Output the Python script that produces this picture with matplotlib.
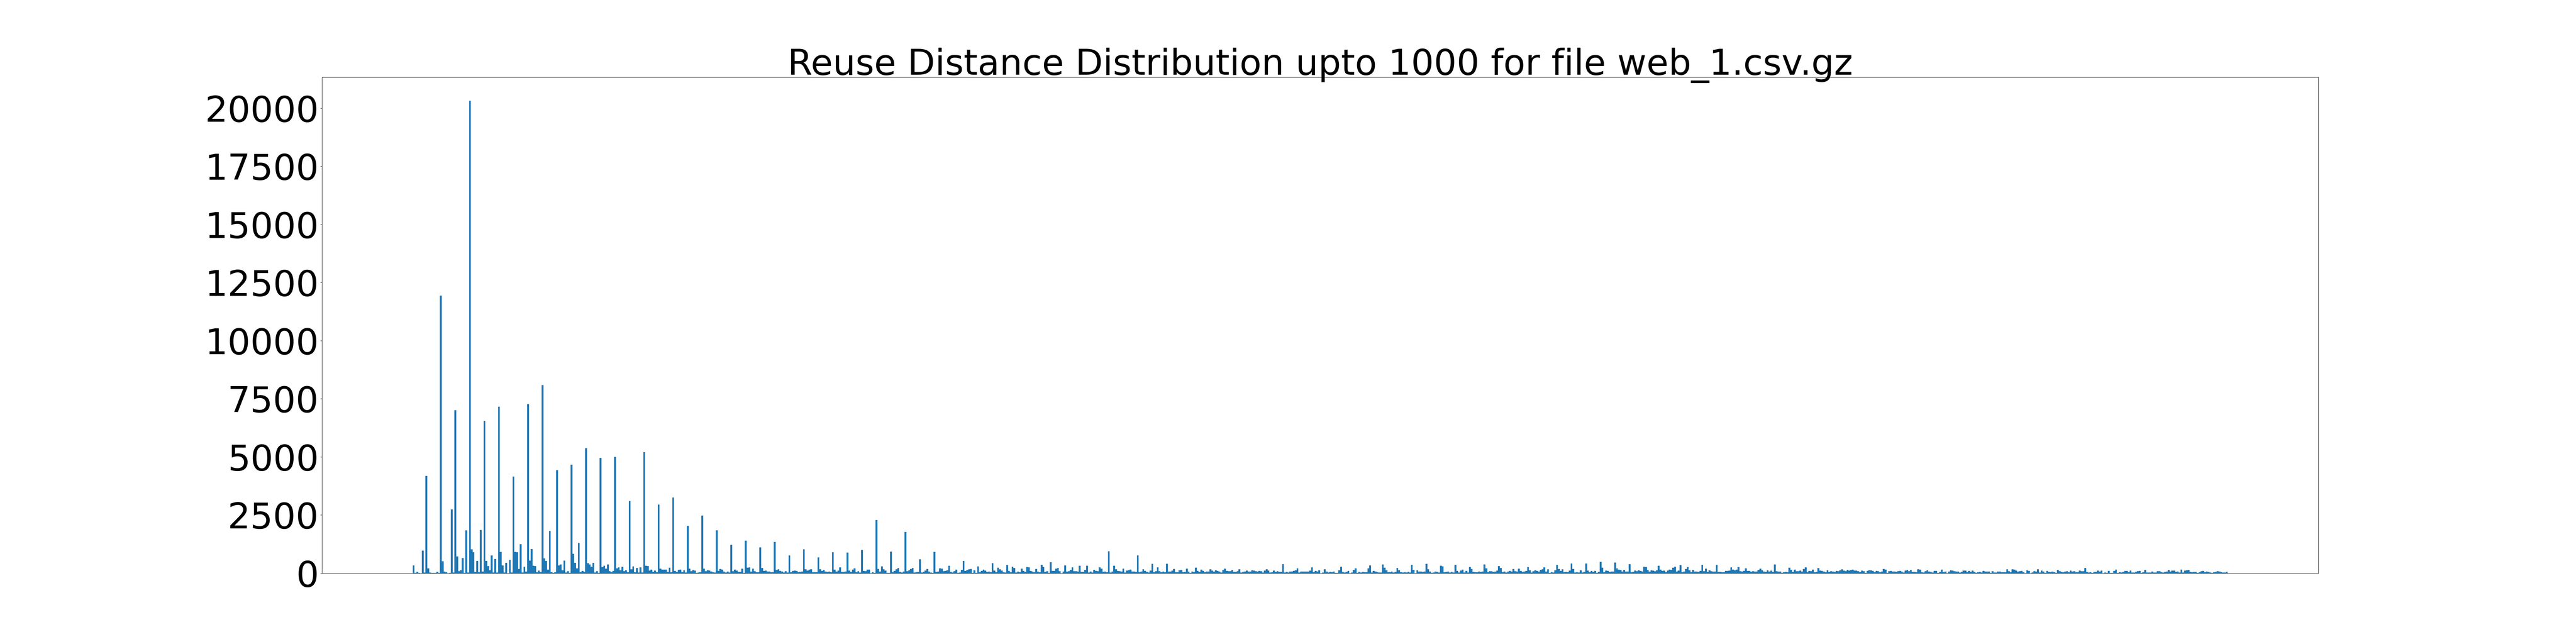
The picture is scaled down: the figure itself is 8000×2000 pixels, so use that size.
import numpy as np
import matplotlib.pyplot as plt
from matplotlib.ticker import MultipleLocator

# chart params
file_name = "web_1.csv.gz"
max_dist = 1000
y_step = 2500

# reuse distance counts (distance 0..999) in chunks
counts_000 = [328, 15, 55, 15, 0, 969, 28, 4177, 205, 28,
              10, 10, 10, 55, 15, 11944, 519, 68, 41, 5,
              14, 2744, 27, 7002, 723, 82, 123, 655, 14, 1843,
              27, 20311, 1024, 900, 55, 532, 41, 1856, 68, 6552,
              532, 300, 123, 764, 27, 614, 27, 7153, 915, 328,
              27, 437, 5, 573, 27, 4150, 915, 900, 177, 1242,
              27, 273, 68, 7275, 546, 1037, 314, 300, 41, 109,
              41, 8081, 642, 532, 150, 1815, 41, 14, 41, 4436,
              328, 369, 123, 546, 27, 82, 14, 4668, 833, 437,
              205, 1297, 41, 96, 55, 5378, 423, 369, 273, 437,
              27, 82, 14, 4955, 259, 314, 191, 369, 82, 41]

counts_110 = [98, 4998, 211, 253, 127, 281, 77, 127, 42, 3107,
              169, 295, 42, 225, 28, 253, 28, 5202, 323, 309,
              112, 155, 56, 112, 42, 2946, 197, 155, 155, 155,
              56, 239, 42, 3248, 98, 56, 141, 155, 42, 127,
              28, 2032, 197, 84, 141, 112, 14, 28, 42, 2475,
              197, 84, 127, 112, 70, 42, 28, 1835, 98, 183,
              155, 70, 28, 70, 28, 1223, 84, 155, 112, 56,
              56, 197, 14, 1392, 239, 253, 70, 197, 84, 42,
              42, 1111, 225, 98, 112, 70, 70, 42, 42, 1350,
              141, 169, 98, 70, 28, 84, 28, 766, 42, 98,
              112, 98, 42, 56, 70, 1019, 169, 112, 155, 169,
              42, 42, 42, 682, 169, 98, 141, 70, 56, 70,
              42, 907, 155, 70]

counts_234 = [111, 249, 55, 55, 69, 886, 111, 55, 152, 208,
              42, 83, 28, 997, 97, 83, 152, 152, 0, 42,
              14, 2284, 180, 69, 291, 166, 111, 14, 14, 928,
              42, 97, 166, 222, 55, 28, 69, 1772, 83, 125,
              180, 222, 28, 42, 55, 595, 28, 55, 111, 180,
              69, 28, 14, 914, 55, 69, 208, 194, 83, 97,
              125, 318, 55, 28, 83, 152, 14, 28, 138, 526,
              97, 138, 166, 180, 14, 125, 14, 291, 42, 97,
              152, 111, 55, 69, 42, 429, 111, 42, 235, 166,
              111, 42, 28, 346, 97, 42, 277, 222, 28, 69,
              42, 194, 97, 55, 263, 249, 97, 69, 42, 180,
              69, 42, 360, 263, 55, 83, 14, 471, 97, 97,
              194, 222, 83, 0, 69, 332, 69, 83, 138, 249,
              83, 83, 69, 318, 55, 55, 138, 318, 28, 69,
              28, 138, 97, 83, 249, 194, 55, 69, 42, 941,
              28, 69, 318, 166, 97, 83, 69, 194, 28, 111,
              125, 152, 69, 69, 55, 761, 42, 69, 166, 97,
              55, 28, 111, 402, 42, 83, 249, 83, 42, 69,
              42, 402, 69, 69, 111, 180, 42, 42, 125, 138,
              42, 55, 194, 69, 14]

counts_429 = [69, 55, 235, 97, 55, 152, 97, 42, 69, 69,
              166, 111, 69, 125, 97, 69, 28, 138, 194, 97,
              83, 83, 138, 55, 55, 83, 166, 28, 55, 69,
              111, 69, 69, 125, 111, 83, 69, 97, 83, 28,
              111, 166, 111, 28, 42, 111, 55, 83, 55, 55,
              388, 28, 55, 28, 69, 69, 97, 125, 208, 28,
              69, 69, 69, 69, 69, 111, 249, 42, 97, 69,
              125, 0, 28, 166, 69, 28, 55, 42, 69, 14,
              14, 125, 277, 55, 28, 55, 97, 0, 28, 138,
              208, 14, 55, 28, 55, 42, 42, 208, 332, 28,
              97, 69, 42, 28, 28, 374, 235, 125, 42, 42,
              69, 28, 55, 222, 125, 42, 28, 42, 28, 55,
              28, 360, 138, 0, 125, 69, 69, 55, 69, 401,
              166, 69, 14, 28, 69, 55, 28, 318, 291, 42,
              55, 69, 28, 55, 28, 360, 97, 28, 111, 152,
              28, 97, 28, 263, 180, 55, 42, 42, 69, 55,
              69, 374, 208, 42, 83, 83, 55, 69, 111, 305,
              222, 42, 69, 28, 69, 97, 69, 180, 83, 69,
              194, 97, 55, 69, 97, 263, 125, 28, 83, 125,
              97, 69, 138, 166, 249]

counts_624 = [69, 166, 14, 42, 28, 125, 360, 180, 97, 166,
              42, 55, 42, 111, 415, 180, 28, 42, 28, 125,
              28, 55, 415, 111, 42, 97, 55, 97, 14, 55,
              485, 235, 42, 111, 97, 55, 69, 69, 457, 208,
              152, 138, 69, 138, 69, 69, 388, 42, 55, 111,
              83, 125, 97, 69, 277, 263, 138, 69, 125, 111,
              83, 125, 318, 152, 97, 111, 42, 111, 152, 138,
              235, 277, 69, 111, 346, 42, 69, 180, 263, 125,
              42, 138, 69, 69, 55, 97, 360, 83, 194, 55,
              125, 83, 69, 69, 360, 55, 55, 42, 42, 97,
              97, 111, 249, 152, 125, 152, 263, 83, 69, 97,
              208, 97, 97, 55, 83, 69, 69, 138, 194, 125,
              69, 55, 125, 69, 111, 55, 374, 83, 69, 69,
              14, 42, 55, 42, 235, 138, 55, 152, 83, 83,
              111, 69, 180, 249, 42, 97, 83, 152, 42, 55,
              222, 111, 97, 69, 42, 125, 55, 83, 69, 55,
              97, 83, 125, 166, 111, 83, 138, 111, 138, 152,
              111, 111, 83, 55, 111, 83, 14, 97, 125, 125,
              97, 42, 97, 83, 42, 69, 180, 152, 14, 83,
              97, 69, 69, 55, 83, 97]

counts_820 = [69, 28, 111, 138, 83, 138, 55, 55, 42, 166,
              152, 42, 28, 83, 125, 69, 55, 28, 97, 97,
              14, 55, 152, 42, 69, 0, 69, 125, 111, 83,
              69, 69, 28, 55, 111, 111, 42, 97, 55, 111,
              55, 14, 42, 55, 28, 97, 69, 69, 69, 14,
              83, 28, 28, 69, 69, 42, 42, 42, 166, 83,
              42, 166, 152, 111, 69, 83, 97, 42, 0, 125,
              97, 0, 28, 83, 69, 166, 28, 111, 69, 14,
              97, 55, 42, 69, 42, 14, 138, 83, 55, 42,
              69, 83, 42, 111, 69, 83, 42, 42, 111, 83,
              83, 222, 55, 28, 42, 14, 55, 55, 111, 69,
              111, 0, 28, 14, 97, 14, 14, 97, 152, 14,
              42, 28, 55, 97, 97, 42, 111, 28, 28, 55,
              83, 97, 14, 42, 138, 28, 28, 28, 69, 28,
              28, 83, 83, 42, 28, 55, 69, 138, 69, 111,
              111, 55, 69, 28, 152, 28, 111, 125, 138, 55,
              42, 55, 55, 14, 42, 83, 97, 42, 69, 55,
              28, 14, 42, 55, 83, 69, 42, 28, 28, 55]

counts = np.array(counts_000 + counts_110 + counts_234 + counts_429 + counts_624 + counts_820)
dist = np.arange(len(counts))

fig, ax = plt.subplots(figsize=(80, 20), dpi=100)
ax.bar(dist, counts, width=1.0, color="#1f77b4")
ax.set_xticks([])
ax.yaxis.set_major_locator(MultipleLocator(y_step))
ax.tick_params(axis="y", labelsize=80)
# fixed y so the title baseline sits just above the frame (descenders overlap it)
ax.set_title(f"Reuse Distance Distribution upto {max_dist} for file {file_name}", fontsize=80, y=1.0)

fig.savefig("out.png", dpi=100)
